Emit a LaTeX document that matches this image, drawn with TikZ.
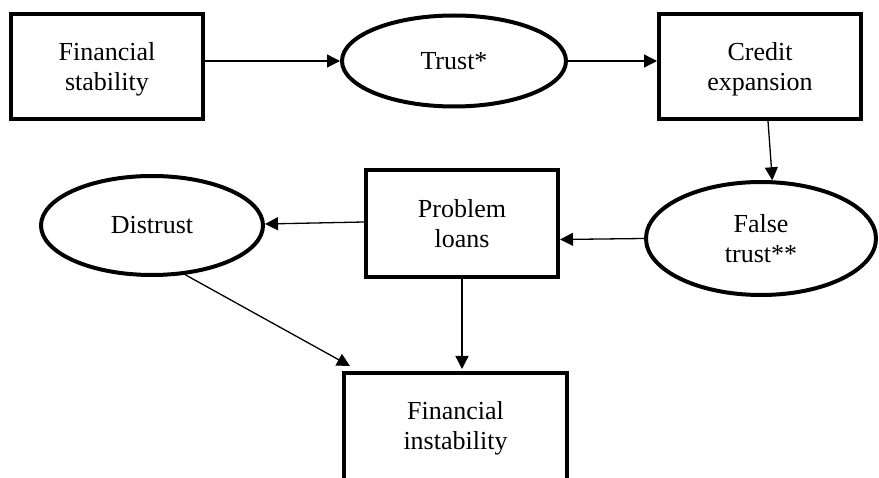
\documentclass[tikz,border=0pt]{standalone}
\usepackage{fontspec}
\setmainfont{Liberation Serif}
\usetikzlibrary{arrows.meta,calc,shapes.geometric}
\newcommand{\nodepth}[1]{\raisebox{0pt}[\height][0pt]{#1}}
\tikzset{
  boxnode/.style={draw, line width=4pt, rectangle, align=center, inner sep=0pt,
    font=\fontsize{26}{30}\selectfont},
  ellnode/.style={draw, line width=4pt, ellipse, align=center, inner sep=0pt,
    font=\fontsize{26}{30}\selectfont},
  conn/.style={line width=1.3pt, -{Triangle[length=13pt,width=13pt]}}
}
\begin{document}
\begin{tikzpicture}[x=1pt,y=-1pt]
\useasboundingbox (0,0) rectangle (879,478);
\node[boxnode, minimum width=192pt, minimum height=105pt] (fs) at (107,66.5) {Financial\\\nodepth{stability}};
\node[ellnode, minimum width=224pt, minimum height=91pt] (tr) at (454,61) {Trust*};
\node[boxnode, minimum width=202pt, minimum height=105pt] (ce) at (760,66.5) {Credit\\\nodepth{expansion}};
\node[ellnode, minimum width=230pt, minimum height=113pt] (ft) at (761,238.5) {False\\trust**};
\node[boxnode, minimum width=192pt, minimum height=107pt] (pl) at (462,223.5) {Problem\\loans};
\node[ellnode, minimum width=222pt, minimum height=99pt] (ds) at (152,225.5) {Distrust};
\node[boxnode, draw=none, outer sep=0pt, minimum width=223pt, minimum height=105pt] (fi) at (455.5,425.5) {Financial\\\nodepth{instability}};
\begin{scope}
\clip (0,0) rectangle (879,478);
\draw[line width=4pt, line join=miter] ($(fi.south west)+(0,20)$) -- (fi.north west) -- (fi.north east) -- ($(fi.south east)+(0,20)$);
\end{scope}
\coordinate (fitgt) at ($(fi.north west)+(6,-7)$);
\draw[conn] (fs.east |- tr.west) -- (tr.west);
\draw[conn] (tr.east) -- (ce.west |- tr.east);
\draw[conn] ($(ce.south)+(8,0)$) -- (ft.79);
\draw[conn] (ft.west) -- ($(pl.east)+(0,16)$);
\draw[conn] ($(pl.west)+(0,-1.5)$) -- ($(ds.east)+(0,-1.5)$);
\draw[conn] (ds.-56) -- (fitgt);
\draw[conn, shorten >=4pt] (pl.south) -- (pl.south |- fi.north);
\end{tikzpicture}
\end{document}
